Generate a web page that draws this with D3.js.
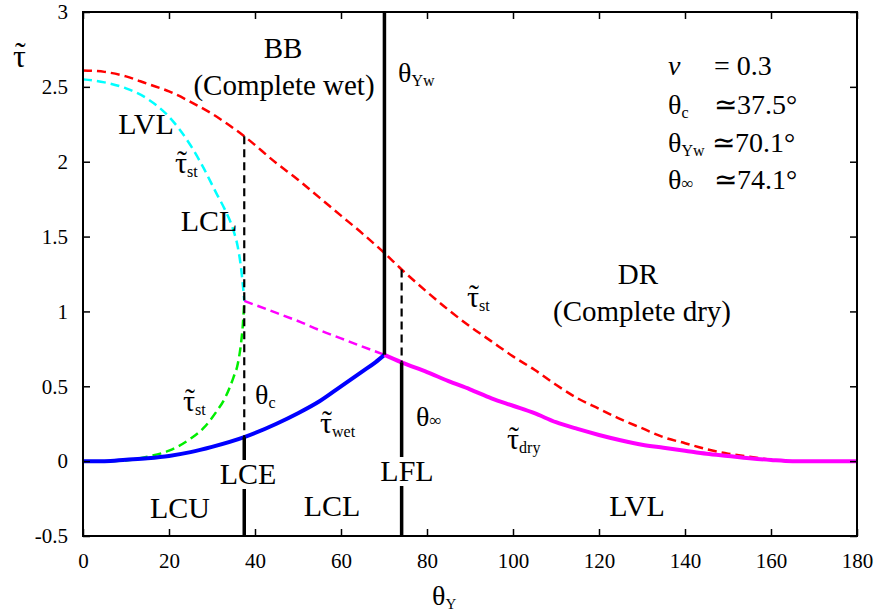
<!DOCTYPE html>
<html><head><meta charset="utf-8">
<script src="https://cdn.jsdelivr.net/npm/d3@7"></script>
<style>body{margin:0;background:#fff}svg text{font-family:"Liberation Serif","Times New Roman",serif !important;fill:#000}</style>
</head><body><svg id="c" width="879" height="611"></svg>
<script>
// ---- data ----
const xTicks = [0,20,40,60,80,100,120,140,160,180];
const yTicks = [-0.5,0,0.5,1,1.5,2,2.5,3];
const redTheta = [0,5,10,15,20,25,30,37.5,45,50,55,60,65,70.1,74.1,80,85,90,95,100,105,110,115,120,125,130,135,140,145,150,155,160,165,170,175,180];
const redTau   = [2.61,2.60,2.57,2.52,2.47,2.40,2.32,2.17,1.99,1.88,1.76,1.64,1.52,1.39,1.28,1.13,1.01,0.90,0.80,0.70,0.61,0.51,0.42,0.35,0.28,0.22,0.16,0.12,0.08,0.05,0.03,0.01,0,0,0,0];
const cyanTheta = [0,5,10,15,20,25,28,31,33,35,36,36.8,37.2,37.5];
const cyanTau   = [2.55,2.53,2.49,2.42,2.30,2.11,1.96,1.79,1.68,1.54,1.43,1.28,1.17,1.07];
const greenTheta = [0,5,10,15,20,25,28,31,33,35,36,36.8,37.2,37.5];
const greenTau   = [0,0,0.005,0.03,0.07,0.15,0.22,0.33,0.42,0.56,0.65,0.80,0.92,1.07];
const wetTheta = [0,5,10,15,20,25,30,37.5,45,50,55,60,65,68,70.1];
const wetTau   = [0,0,0.01,0.02,0.035,0.06,0.095,0.16,0.25,0.32,0.40,0.50,0.60,0.66,0.71];
const magDashTheta = [37.5,45,50.5,55,60,65,70.1];
const magDashTau   = [1.07,0.99,0.93,0.875,0.82,0.765,0.71];
const dryTheta = [70.1,74.1,80,85,90,95,100,105,110,115,120,125,130,135,140,145,150,155,160,165,170,175,180];
const dryTau   = [0.71,0.66,0.595,0.535,0.48,0.42,0.37,0.32,0.26,0.215,0.175,0.14,0.11,0.09,0.07,0.05,0.035,0.02,0.008,0,0,0,0];
const thetaC = 37.5, thetaYw = 70.1, thetaInf = 74.1;

const svg = d3.select("#c");
const FONT = "Liberation Serif, Times New Roman, serif";
const x = d3.scaleLinear().domain([0,180]).range([83,857]);
const y = d3.scaleLinear().domain([-0.5,3]).range([536,12]);

const line = d3.line().x(d=>x(d[0])).y(d=>y(d[1])).curve(d3.curveMonotoneX);
const zip = (a,b)=>a.map((v,i)=>[v,b[i]]);
const at = (th, ta, t) => ta[th.indexOf(t)];

const gCurves = svg.append("g");
const gLabels = svg.append("g");
function curve(th, ta, color, w, dash){
  gCurves.append("path").attr("d", line(zip(th,ta))).attr("fill","none")
    .attr("stroke",color).attr("stroke-width",w).attr("stroke-dasharray",dash||null);
}
function vline(th, t0, t1, w, dash){
  gCurves.append("line").attr("x1",x(th)).attr("x2",x(th)).attr("y1",y(t0)).attr("y2",y(t1))
    .attr("stroke","#000").attr("stroke-width",w).attr("stroke-dasharray",dash||null);
}

// curves
curve(redTheta, redTau, "#ff0000", 2.5, "9,5");
curve(cyanTheta, cyanTau, "#00ffff", 2.5, "9,5");
curve(greenTheta, greenTau, "#00ee00", 2.5, "9,5");
curve(magDashTheta, magDashTau, "#ff00ff", 2.5, "9,5");
curve(wetTheta, wetTau, "#0000ff", 4);
curve(dryTheta, dryTau, "#ff00ff", 4);

// vertical lines
vline(thetaC, at(redTheta,redTau,thetaC), at(wetTheta,wetTau,thetaC), 2.2, "8,5");
vline(thetaC, at(wetTheta,wetTau,thetaC), -0.5, 3.5);
vline(thetaYw, 3, at(dryTheta,dryTau,thetaYw), 3.5);
vline(thetaInf, at(redTheta,redTau,thetaInf), at(dryTheta,dryTau,thetaInf), 2.2, "8,5");
vline(thetaInf, at(dryTheta,dryTau,thetaInf), -0.5, 3.5);

// axes
const gx = svg.append("g").attr("transform","translate(0,536)")
  .call(d3.axisBottom(x).tickValues(xTicks).tickSize(-7).tickPadding(17).tickFormat(d=>String(d)));
const gxt = svg.append("g").attr("transform","translate(0,12)")
  .call(d3.axisTop(x).tickValues(xTicks).tickSize(-7).tickFormat(""));
const gy = svg.append("g").attr("transform","translate(83,0)")
  .call(d3.axisLeft(y).tickValues(yTicks).tickSize(-7).tickPadding(15).tickFormat(d=>String(d)));
const gyr = svg.append("g").attr("transform","translate(857,0)")
  .call(d3.axisRight(y).tickValues(yTicks).tickSize(-7).tickFormat(""));
[gx,gxt,gy,gyr].forEach(g=>{
  g.attr("font-family",FONT).attr("font-size",21);
  g.select(".domain").remove();
  g.selectAll("line").attr("stroke","#000").attr("stroke-width",1.5);
  g.selectAll("text").attr("fill","#000");
});
svg.append("rect").attr("x",83).attr("y",12).attr("width",774).attr("height",524)
  .attr("fill","none").attr("stroke","#000").attr("stroke-width",2);

// text helpers
function lab(px, py, parts, anchor, bg){
  const t = gLabels.append("text").attr("x",px).attr("y",py).attr("text-anchor",anchor||"start")
    .attr("font-family",FONT);
  parts.forEach(p=>{
    const s = t.append("tspan").text(p.t).attr("font-size",p.s||29);
    if(p.dy) s.attr("dy",p.dy);
    if(p.it) s.attr("font-style","italic");
  });
  if(bg){
    const b = t.node().getBBox();
    gCurves.append("rect").attr("x",b.x-2).attr("y",b.y+3).attr("width",b.width+4).attr("height",b.height-4).attr("fill","#fff");
  }
  return t;
}
function sub(px,py,main,s,ms,ss){
  return lab(px,py,[{t:main,s:ms||29},{t:s,s:ss||16,dy:4}]);
}
// tau with tilde (one text element), then optional subscript
function tauLab(px,py,s,ms,ss){
  ms = ms||30;
  const t = gLabels.append("text").attr("x",px).attr("y",py).attr("font-family",FONT);
  const tau = t.append("tspan").text("\u03C4").attr("font-size",ms);
  const til = t.append("tspan").text("\u02DC").attr("font-size",ms);
  let sb = null;
  if(s) sb = t.append("tspan").text(s).attr("font-size",ss||16);
  const w = tau.node().getComputedTextLength();
  const tw = til.node().getComputedTextLength();
  const up = ms*0.08;
  til.attr("dx", -(w/2 + tw/2) + 1).attr("dy", -up);
  if(sb) sb.attr("dx", w/2 - tw/2 - 1).attr("dy", up + 4);
}

lab(283,58,[{t:"BB"}],"middle");
lab(284,95,[{t:"(Complete wet)"}],"middle");
sub(398,82,"\u03B8","Yw",28,16);
lab(668,75,[{t:"v",it:true,s:28}]);
lab(714,75,[{t:"= 0.3",s:28}]);
sub(668,114,"\u03B8","c",28,16);
lab(714,114,[{t:"\u224337.5\u00B0",s:28}]);
sub(668,152,"\u03B8","Yw",28,16);
lab(712,152,[{t:"\u224370.1\u00B0",s:28}]);
lab(668,189,[{t:"\u03B8",s:28},{t:"\u221E",s:17}]);
lab(714,189,[{t:"\u224374.1\u00B0",s:28}]);

lab(146,134,[{t:"LVL",s:30}],"middle");
tauLab(175,173,"st");
lab(209,231,[{t:"LCL",s:30}],"middle");
tauLab(183,411,"st");
sub(255,404,"\u03B8","c",28,16);
tauLab(320,433,"wet");
lab(416,426,[{t:"\u03B8",s:28},{t:"\u221E",s:17}]);
tauLab(507,449,"dry");
tauLab(467,307,"st");
lab(638,284,[{t:"DR"}],"middle");
lab(642,321,[{t:"(Complete dry)"}],"middle");

lab(248,484,[{t:"LCE",s:30}],"middle",true);
lab(407,481,[{t:"LFL",s:30}],"middle",true);
lab(180,518,[{t:"LCU",s:30}],"middle");
lab(332,516,[{t:"LCL",s:30}],"middle");
lab(637,516,[{t:"LVL",s:30}],"middle");

// axis titles
tauLab(13,67,null,32);
lab(432,605,[{t:"\u03B8",s:28},{t:"Y",s:15,dy:4}]);
</script></body></html>
